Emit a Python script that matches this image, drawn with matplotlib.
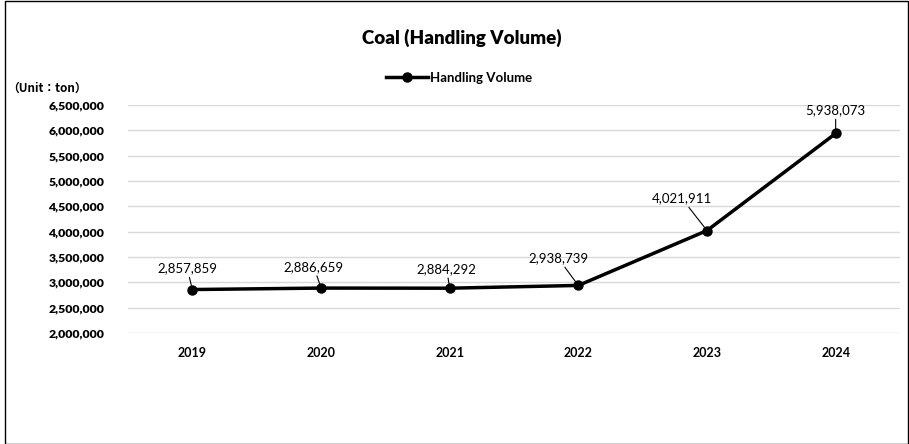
import matplotlib.pyplot as plt
from matplotlib.ticker import FuncFormatter
from matplotlib.patches import Rectangle

years = ['2019', '2020', '2021', '2022', '2023', '2024']
volume = [2857859, 2886659, 2884292, 2938739, 4021911, 5938073]
# label offsets (pixels) from each point
label_dx = [-5, -7, -3, -20, -25, 0]
label_dy = [15, 15, 13, 21, 26, 17]

plt.rcParams['font.family'] = ['Lato', 'DejaVu Sans']

fig = plt.figure(figsize=(9.09, 4.44), dpi=100)
ax = fig.add_axes([128 / 909, 1 - 333 / 444, 772 / 909, 228 / 444])

x = list(range(len(years)))
ax.plot(x, volume, color='black', lw=2.5, marker='o', ms=6.5, label='Handling Volume', zorder=3)

for i, v in enumerate(volume):
    ax.annotate(f'{v:,}', xy=(i, v), xytext=(label_dx[i] * 0.72, label_dy[i] * 0.72),
                textcoords='offset points', ha='center', va='bottom', fontsize=9.5,
                arrowprops=dict(arrowstyle='-', color='black', lw=0.8, shrinkA=0, shrinkB=3))

ax.set_xlim(-0.5, 5.5)
ax.set_ylim(2000000, 6500000)
ax.set_yticks(range(2000000, 6500001, 500000))
ax.yaxis.set_major_formatter(FuncFormatter(lambda v, p: f'{int(v):,}'))
ax.set_xticks(x)
ax.set_xticklabels(years, fontweight='bold', fontsize=9)
for t in ax.get_yticklabels():
    t.set_fontweight('heavy')
    t.set_fontsize(8.8)
ax.tick_params(axis='y', length=0, pad=17)
ax.tick_params(axis='x', length=0, pad=10)
ax.grid(axis='y', color='#d9d9d9', lw=1)
ax.set_axisbelow(True)
for s in ax.spines.values():
    s.set_visible(False)

fig.text(462 / 909, 1 - 38 / 444, 'Coal (Handling Volume)', ha='center', va='center',
         fontsize=13.5, fontweight='heavy')
fig.text(7 / 909, 1 - 88 / 444, '（Unit：ton）', ha='left', va='center', fontsize=8.5,
         fontweight='bold', family=['Noto Sans CJK JP', 'DejaVu Sans'])
ax.legend(loc='center', bbox_to_anchor=(459 / 909, 1 - 78 / 444), bbox_transform=fig.transFigure,
          frameon=False, prop={'weight': 'bold', 'size': 9.5}, handlelength=3.2, handletextpad=0.1)

fig.patches.append(Rectangle((5 / 909, 0), 1 - 5 / 909 - 0.001, 0.998, transform=fig.transFigure,
                             fill=False, ec='black', lw=1))

fig.savefig('out.png', dpi=100)
